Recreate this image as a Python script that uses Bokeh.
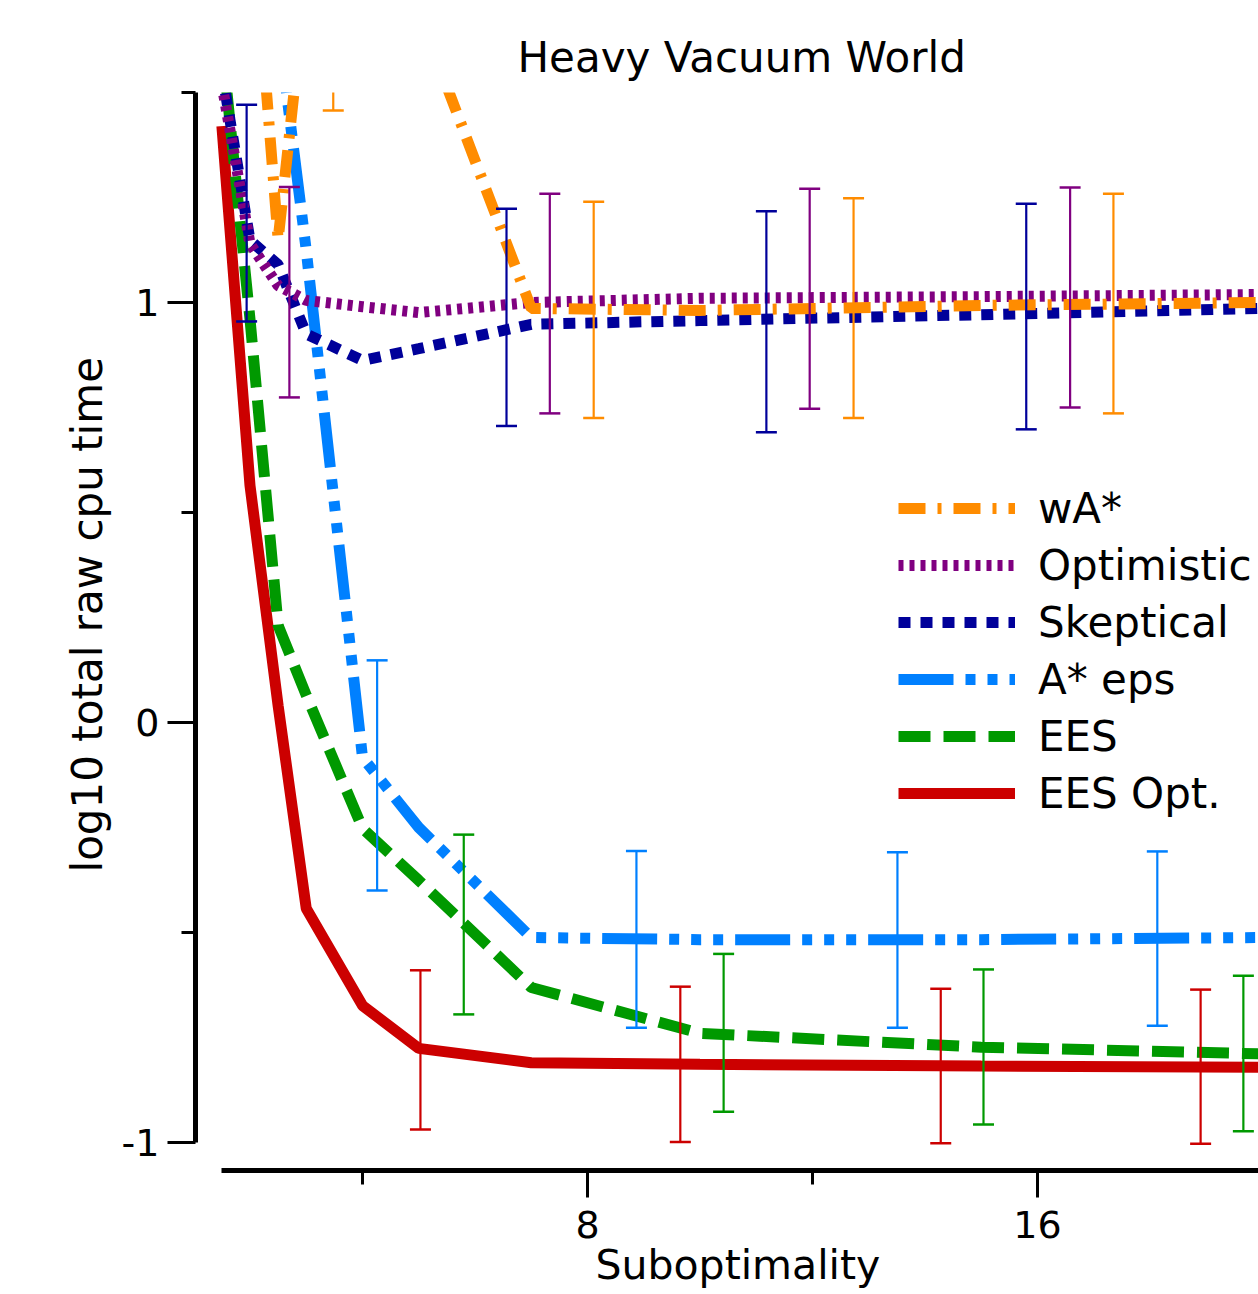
from bokeh.plotting import figure
from bokeh.models import FixedTicker, Legend, LegendItem, Title
from bokeh.embed import file_html
from bokeh.resources import INLINE

# ---------------- data ----------------
subopt = [1.5, 2, 2.5, 3, 4, 5, 7, 10, 15, 20]

wastar     = [2.30, 2.00, 1.15, 1.77, 1.95, 1.69, 0.986, 0.981, 0.993, 1.000]
optimistic = [1.52, 1.14, 1.04, 1.005, 0.990, 0.976, 1.000, 1.010, 1.014, 1.019]
skeptical  = [1.55, 1.148, 1.09, 0.925, 0.862, 0.890, 0.948, 0.957, 0.971, 0.986]
astar_eps  = [2.30, 2.05, 1.66, 1.124, -0.083, -0.250, -0.512, -0.517, -0.517, -0.512]
ees        = [1.62, 0.96, 0.231, 0.065, -0.252, -0.376, -0.631, -0.740, -0.773, -0.789]
ees_opt    = [1.42, 0.564, 0.04, -0.443, -0.674, -0.776, -0.810, -0.814, -0.818, -0.821]

# error bars (x position, low, high)
wastar_err_x = [3.48, 8.11, 12.73, 17.35]
wastar_err_lo = [1.457, 0.725, 0.725, 0.736]
wastar_err_hi = [2.26, 1.240, 1.248, 1.259]

optimistic_err_x = [2.70, 7.33, 11.95, 16.58]
optimistic_err_lo = [0.774, 0.736, 0.747, 0.750]
optimistic_err_hi = [1.275, 1.259, 1.271, 1.274]

skeptical_err_x = [1.94, 6.56, 11.18, 15.80]
skeptical_err_lo = [0.955, 0.706, 0.691, 0.698]
skeptical_err_hi = [1.471, 1.223, 1.217, 1.235]

astar_eps_err_x = [4.26, 8.87, 13.51, 18.13]
astar_eps_err_lo = [-0.400, -0.727, -0.727, -0.722]
astar_eps_err_hi = [0.148, -0.306, -0.309, -0.307]

ees_err_x = [5.80, 10.42, 15.04, 19.66]
ees_err_lo = [-0.695, -0.927, -0.957, -0.973]
ees_err_hi = [-0.267, -0.551, -0.588, -0.603]

ees_opt_err_x = [5.03, 9.65, 14.28, 18.90]
ees_opt_err_lo = [-0.969, -0.999, -1.002, -1.003]
ees_opt_err_hi = [-0.590, -0.629, -0.634, -0.636]

x_major_ticks = [8, 16]
x_minor_ticks = [4, 12, 20]
y_major_ticks = [-1, 0, 1]
y_minor_ticks = [-0.5, 0.5, 1.5]

# ---------------- figure ----------------
FONT = "DejaVu Sans"
p = figure(width=1258, height=1294, x_range=(1.031, 19.929), y_range=(-1.0667, 1.5),
           output_backend="svg", toolbar_location=None,
           min_border_left=195, min_border_right=0, min_border_top=92, min_border_bottom=124)
p.grid.visible = False
p.outline_line_color = None
p.background_fill_color = "white"
p.border_fill_color = "white"

for ax in (p.xaxis[0], p.yaxis[0]):
    ax.axis_line_width = 5
    ax.axis_line_color = "black"
    ax.major_tick_line_width = 3
    ax.minor_tick_line_width = 3
    ax.major_tick_in = 0
    ax.minor_tick_in = 0
    ax.major_label_text_font = FONT
    ax.major_label_text_font_size = "38px"
    ax.major_label_text_color = "black"

xa = p.xaxis[0]
xa.ticker = FixedTicker(ticks=x_major_ticks, minor_ticks=x_minor_ticks)
xa.bounds = (1.5, 20)
xa.major_tick_out = 27
xa.minor_tick_out = 14
xa.major_label_standoff = 13
xa.major_label_overrides = {t: str(t) for t in x_major_ticks}

ya = p.yaxis[0]
ya.ticker = FixedTicker(ticks=y_major_ticks, minor_ticks=y_minor_ticks)
ya.bounds = (-1, 1.5)
ya.major_tick_out = 28
ya.minor_tick_out = 14
ya.major_label_standoff = 8
ya.major_label_overrides = {t: str(t) for t in y_major_ticks}

# ---------------- series ----------------
series = {
    "EES Opt.":   (ees_opt, "#CC0000", "solid"),
    "EES":        (ees, "#009900", "32 13"),
    "A* eps":     (astar_eps, "#0080FF", "55 12 10 12 10 12 10 12"),
    "Skeptical":  (skeptical, "#00009A", "12 10"),
    "Optimistic": (optimistic, "#800080", "5 6"),
    "wA*":        (wastar, "#FF8C00", "27 12 4 12"),
}
renderers = {}
for name, (vals, color, dash) in series.items():
    renderers[name] = p.line(subopt, vals, line_color=color, line_width=11, line_dash=dash)

errs = [
    (ees_opt_err_x, ees_opt_err_lo, ees_opt_err_hi, "#CC0000"),
    (ees_err_x, ees_err_lo, ees_err_hi, "#009900"),
    (astar_eps_err_x, astar_eps_err_lo, astar_eps_err_hi, "#0080FF"),
    (skeptical_err_x, skeptical_err_lo, skeptical_err_hi, "#00009A"),
    (optimistic_err_x, optimistic_err_lo, optimistic_err_hi, "#800080"),
    (wastar_err_x, wastar_err_lo, wastar_err_hi, "#FF8C00"),
]
for ex, lo, hi, color in errs:
    p.segment(x0=ex, y0=lo, x1=ex, y1=hi, line_color=color, line_width=2.2)
    p.scatter(ex, lo, marker="dash", size=21, line_color=color, line_width=2.5)
    p.scatter(ex, hi, marker="dash", size=21, line_color=color, line_width=2.5)

# ---------------- legend ----------------
order = ["wA*", "Optimistic", "Skeptical", "A* eps", "EES", "EES Opt."]
legend = Legend(items=[LegendItem(label=n, renderers=[renderers[n]]) for n in order],
                location=(703, 352), orientation="vertical",
                glyph_width=117, glyph_height=50, label_height=50, spacing=7,
                padding=0, margin=0, label_standoff=23,
                label_text_font=FONT, label_text_font_size="42px", label_text_color="black",
                border_line_color=None, background_fill_alpha=0)
p.add_layout(legend)

# ---------------- texts ----------------
p.title = Title(text="Heavy Vacuum World", align="left", offset=322, standoff=21,
                text_font=FONT, text_font_size="42px", text_font_style="normal",
                text_color="black")
p.add_layout(Title(text="Suboptimality", align="left", offset=400, standoff=-4,
                   text_font=FONT, text_font_size="41px", text_font_style="normal",
                   text_color="black"), "below")
p.add_layout(Title(text="log10 total raw cpu time", align="left", offset=298, standoff=14,
                   text_font=FONT, text_font_size="42px", text_font_style="normal",
                   text_color="black"), "left")

open("out.html", "w").write(file_html(p, INLINE))
